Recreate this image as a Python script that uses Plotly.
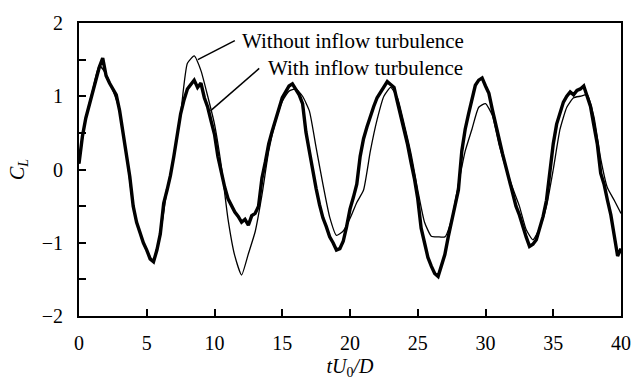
import numpy as np
import plotly.graph_objects as go

# Lift coefficient time histories, read at fixed time steps
t_with = np.arange(0, 40.001, 0.25)
cl_with = [
    0.08, 0.45, 0.70, 0.88, 1.08, 1.26, 1.40, 1.52, 1.28, 1.18, 1.10, 1.02,
    0.80, 0.50, 0.20, -0.10, -0.50, -0.72, -0.86, -1.00, -1.10, -1.22, -1.26, -1.10,
    -0.88, -0.46, -0.28, -0.08, 0.18, 0.45, 0.76, 0.95, 1.10, 1.16, 1.22, 1.12,
    1.18, 0.98, 0.85, 0.66, 0.48, 0.18, -0.05, -0.24, -0.40, -0.50, -0.58, -0.64,
    -0.72, -0.68, -0.76, -0.63, -0.60, -0.50, -0.12, 0.10, 0.35, 0.52, 0.68, 0.86,
    0.98, 1.06, 1.14, 1.17, 1.10, 1.02, 0.90, 0.51, 0.25, -0.02, -0.26, -0.48,
    -0.66, -0.78, -0.92, -1.00, -1.10, -1.08, -0.98, -0.78, -0.54, -0.38, -0.20, 0.18,
    0.42, 0.58, 0.74, 0.86, 0.98, 1.06, 1.14, 1.20, 1.16, 1.12, 0.92, 0.74,
    0.52, 0.34, 0.10, -0.12, -0.40, -0.80, -1.00, -1.20, -1.32, -1.42, -1.46, -1.30,
    -1.16, -0.92, -0.72, -0.50, -0.28, 0.25, 0.55, 0.76, 0.98, 1.15, 1.22, 1.25,
    1.14, 1.04, 0.82, 0.60, 0.42, 0.22, 0.04, -0.12, -0.30, -0.50, -0.62, -0.78,
    -0.92, -1.05, -1.02, -0.96, -0.80, -0.64, -0.42, -0.05, 0.35, 0.62, 0.78, 0.92,
    1.00, 1.06, 1.02, 1.08, 1.10, 1.14, 1.00, 0.86, 0.60, 0.35, -0.05, -0.20,
    -0.42, -0.62, -0.90, -1.18, -1.08,
]

t_without = np.arange(0, 40.001, 0.5)
cl_without = [
    0.08, 0.70, 1.08, 1.42, 1.30, 1.08, 0.80, 0.20, -0.50, -0.86, -1.10, -1.26,
    -0.88, -0.28, 0.18, 0.76, 1.45, 1.55, 1.35, 1.00, 0.62, 0.05, -0.68, -1.18,
    -1.44, -1.15, -0.85, -0.35, 0.25, 0.65, 0.93, 1.07, 1.10, 1.00, 0.80, 0.30,
    -0.20, -0.65, -0.90, -0.84, -0.67, -0.45, -0.28, 0.25, 0.68, 1.00, 1.12, 0.98,
    0.62, 0.22, -0.28, -0.72, -0.91, -0.92, -0.92, -0.68, -0.20, 0.25, 0.55, 0.85,
    0.90, 0.74, 0.34, 0.02, -0.25, -0.50, -0.82, -0.96, -0.80, -0.50, 0.00, 0.55,
    0.85, 0.98, 1.00, 1.02, 0.72, 0.15, -0.25, -0.42, -0.60,
]

x_ticks = [0, 5, 10, 15, 20, 25, 30, 35, 40]
y_ticks = [-2, -1, 0, 1, 2]

serif = "Times New Roman, Liberation Serif, DejaVu Serif, serif"

fig = go.Figure()
fig.add_trace(go.Scatter(
    x=t_without, y=cl_without, mode="lines",
    line=dict(color="black", width=1.3, shape="spline", smoothing=0.5),
    name="Without inflow turbulence", showlegend=False,
))
fig.add_trace(go.Scatter(
    x=t_with, y=cl_with, mode="lines",
    line=dict(color="black", width=3.4),
    name="With inflow turbulence", showlegend=False,
))

# Labels with leader lines
labels = [
    ("Without inflow turbulence", 8.77, 1.50, 11.5, 1.76, 11.9),
    ("With inflow turbulence", 9.7, 0.80, 13.3, 1.38, 13.8),
]
for text, x0, y0, x1, y1, xt in labels:
    fig.add_shape(type="line", xref="x", yref="y", x0=x0, y0=y0, x1=x1, y1=y1,
                  line=dict(color="black", width=1.5))
    fig.add_annotation(x=xt, y=y1, xref="x", yref="y", text=text, showarrow=False,
                       xanchor="left", yanchor="middle",
                       font=dict(family=serif, size=21, color="black"))

fig.update_layout(
    width=643, height=386,
    margin=dict(l=79, r=12, t=17, b=65),
    paper_bgcolor="white", plot_bgcolor="white",
    font=dict(family=serif, size=20, color="black"),
    showlegend=False,
)
fig.update_xaxes(
    range=[0, 40], tickvals=x_ticks, ticks="inside", ticklen=7, tickwidth=1.5,
    tickcolor="black", showline=True, linecolor="black", linewidth=2, mirror=True,
    showgrid=False, zeroline=False, ticklabelstandoff=8,
    tickfont=dict(family=serif, size=20),
    title=dict(text="<i>tU</i><sub>0</sub><i>/D</i>", standoff=6,
               font=dict(family=serif, size=20)),
)
fig.update_yaxes(
    range=[-2, 2], tickvals=y_ticks, ticks="inside", ticklen=7,
    tickwidth=1.5, tickcolor="black", showline=True, linecolor="black", linewidth=2,
    mirror=True, showgrid=False, zeroline=False, ticklabelstandoff=10,
    minor=dict(dtick=0.5, ticks="inside", ticklen=7, tickwidth=1.5, tickcolor="black",
               showgrid=False),
    tickfont=dict(family=serif, size=20),
    title=dict(text="<i>C</i><sub><i>L</i></sub>", standoff=12,
               font=dict(family=serif, size=20)),
)

fig.write_html("out.html")
